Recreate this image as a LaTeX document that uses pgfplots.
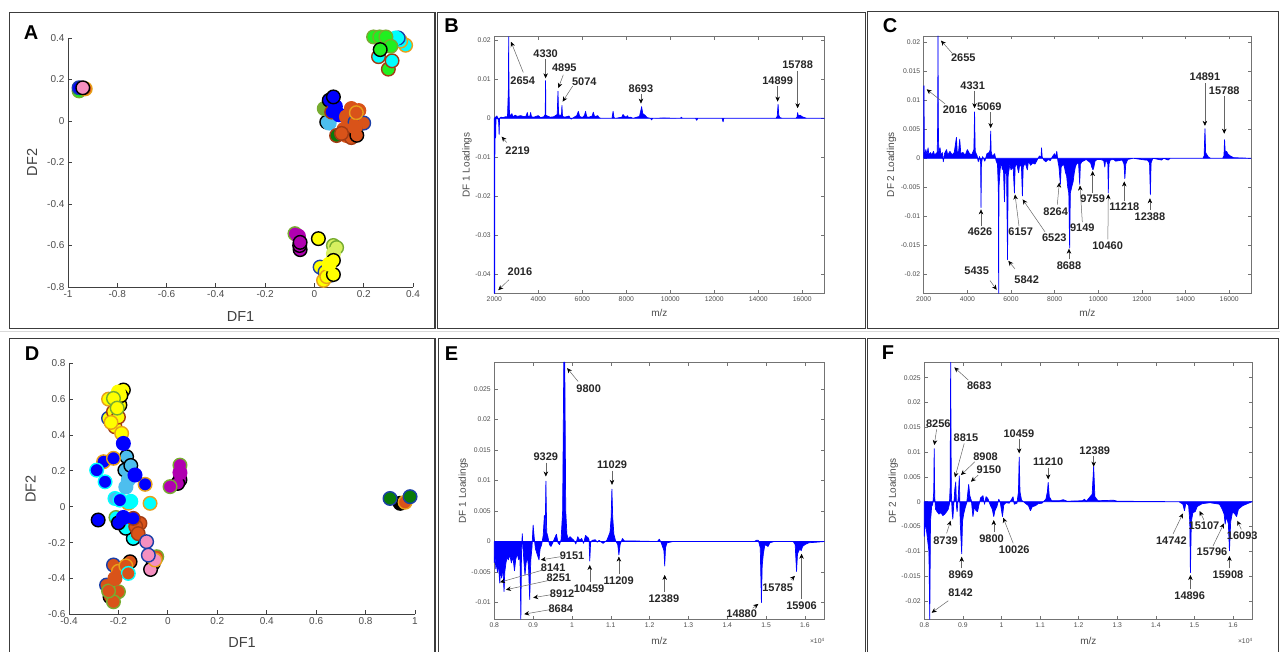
\documentclass[border=0pt]{standalone}
\usepackage{pgfplots}
\pgfplotsset{compat=1.18}
\usepackage{fontspec}
\setmainfont{Liberation Sans}
\usetikzlibrary{arrows.meta}
\definecolor{mBlue}{HTML}{0000FF}
\definecolor{mOrange}{HTML}{D95319}
\definecolor{mGold}{HTML}{E8A01A}
\definecolor{mEdgeBlue}{HTML}{1A3FA8}
\definecolor{mBrown}{HTML}{A23B14}
\definecolor{mLGreen}{HTML}{77AC30}
\definecolor{mLBlue}{HTML}{4DBEEE}
\definecolor{mMag}{HTML}{B000B0}
\definecolor{mPink}{HTML}{F590C0}
\definecolor{mDGreen}{HTML}{0A7A0A}
\definecolor{mCyan}{HTML}{00FFFF}
\definecolor{mLime}{HTML}{20F020}
\definecolor{mYellow}{HTML}{FFFF00}
\definecolor{mYG}{HTML}{D8F060}
\definecolor{frame}{HTML}{3C3C3C}
\newcommand{\pts}[3]{\addplot[only marks,mark=*,mark size=6.8pt,mark options={fill=#1,draw=#2,line width=1.4pt}] coordinates {#3};}
\newcommand{\ann}[4]{\node[lab] at (axis cs:#2) {#1};\draw[arr] (axis cs:#3) -- (axis cs:#4);}
\tikzset{
  lab/.style={font=\fontsize{11}{12}\selectfont\bfseries, text=black!85, inner sep=0pt},
  arr/.style={draw=black!60, line width=0.5pt, -{Stealth[length=5pt,width=4.5pt,black]}},
}
\pgfplotsset{
  scat/.style={scale only axis, axis lines*=left, tick align=inside, clip=false,
    axis line style={black!75, line width=0.9pt}, tick style={black!75, line width=0.8pt},
    major tick length=4pt,
    tick label style={font=\fontsize{10}{11}\selectfont, text=black!70},
    label style={font=\fontsize{14.5}{16}\selectfont, text=black!75},
    /pgf/number format/assume math mode=true},
  spec/.style={scale only axis, clip=false, scaled ticks=false,
    axis line style={black!55, line width=0.5pt}, tick style={black!55, line width=0.5pt},
    major tick length=3.5pt,
    tick label style={font=\fontsize{6.8}{7}\selectfont, text=black!70},
    label style={font=\fontsize{10}{11}\selectfont, text=black!70},
    /pgf/number format/assume math mode=true, /pgf/number format/1000 sep={},
    yticklabel style={/pgf/number format/fixed, /pgf/number format/precision=3}},
  sp/.style={draw=blue, fill=blue, line width=0.7pt, line join=round},
}
\begin{document}
\begin{tikzpicture}
\useasboundingbox (0,0) rectangle (1280pt,651pt);
\fill[white] (0,0) rectangle (1280pt,651pt);
\draw[black!15, line width=0.5pt] (0,320pt) -- (1280pt,320pt);
% frames
\draw[frame, line width=1.5pt] (9.3pt,322.7pt) rectangle (435pt,638.3pt);
\draw[frame, line width=1.5pt] (437.7pt,322.7pt) rectangle (865.7pt,638.3pt);
\draw[frame, line width=1.5pt] (867.7pt,322.7pt) rectangle (1278.5pt,639.3pt);
\draw[frame, line width=1.5pt] (9.3pt,-5pt) -- (9.3pt,312.7pt) -- (435pt,312.7pt) -- (435pt,-5pt);
\draw[frame, line width=1.5pt] (438.3pt,-5pt) -- (438.3pt,312.7pt) -- (865.7pt,312.7pt) -- (865.7pt,-5pt);
\draw[frame, line width=1.5pt] (867.7pt,-5pt) -- (867.7pt,312.7pt) -- (1278.5pt,312.7pt) -- (1278.5pt,-5pt);
% letters
\node[font=\fontsize{20}{22}\selectfont\bfseries] at (31pt,618.5pt) {A};
\node[font=\fontsize{20}{22}\selectfont\bfseries] at (451.5pt,625.3pt) {B};
\node[font=\fontsize{20}{22}\selectfont\bfseries] at (890pt,625pt) {C};
\node[font=\fontsize{20}{22}\selectfont\bfseries] at (32pt,297.5pt) {D};
\node[font=\fontsize{20}{22}\selectfont\bfseries] at (451.5pt,297pt) {E};
\node[font=\fontsize{20}{22}\selectfont\bfseries] at (888pt,298.5pt) {F};

% ---------------- A ----------------
\begin{axis}[scat, at={(68pt,364pt)}, anchor=south west, width=345pt, height=249pt,
  xmin=-1, xmax=0.4, ymin=-0.8, ymax=0.4,
  xtick={-1,-0.8,-0.6,-0.4,-0.2,0,0.2,0.4}, ytick={-0.8,-0.6,-0.4,-0.2,0,0.2,0.4},
  xlabel={DF1}, ylabel={DF2},
  xlabel style={at={(axis description cs:0.5,-0.12)}, anchor=center},
  ylabel style={at={(axis description cs:-0.104,0.5)}, anchor=center}]
\pts{mLime}{mLGreen}{(-0.955,0.145)}
\pts{mBlue}{mEdgeBlue}{(-0.955,0.16)}
\pts{mOrange}{mGold}{(-0.93,0.155)}
\pts{mPink}{black}{(-0.94,0.16)}
% upper right
\pts{mCyan}{mBrown}{(0.26,0.31)}
\pts{mLime}{mBrown}{(0.30,0.25)}
\pts{mCyan}{mBrown}{(0.315,0.29)}
\pts{mCyan}{mGold}{(0.37,0.365) (0.35,0.385)}
\pts{mCyan}{mEdgeBlue}{(0.34,0.40)}
\pts{mCyan}{mCyan}{(0.33,0.40) (0.30,0.39)}
\pts{mLime}{mLGreen}{(0.24,0.405) (0.265,0.405) (0.29,0.405) (0.31,0.36)}
\pts{mLime}{black}{(0.267,0.344)}
% middle
\pts{mLBlue}{black}{(0.05,-0.005)}
\pts{mLBlue}{mLBlue}{(0.06,-0.01)}
\pts{mLGreen}{mLGreen}{(0.04,0.06)}
\pts{mBlue}{black}{(0.06,0.10)}
\pts{mBlue}{mBrown}{(0.07,0.043)}
\pts{mBlue}{mBlue}{(0.10,0.03) (0.085,0.07)}
\pts{mOrange}{mOrange}{(0.13,-0.07) (0.15,0.06) (0.18,0.05) (0.13,0.02) (0.12,-0.04)}
\pts{mDGreen}{mBrown}{(0.09,-0.07)}
\pts{mOrange}{mEdgeBlue}{(0.165,-0.005) (0.2,-0.01)}
\pts{mOrange}{mBrown}{(0.15,-0.08) (0.11,-0.06) (0.165,-0.04)}
\pts{mOrange}{mGold}{(0.17,0.04)}
\pts{mOrange}{black}{(0.172,-0.069)}
\pts{mOrange}{mOrange}{(0.165,-0.03)}
\pts{mBlue}{black}{(0.077,0.116)}
% bottom
\pts{mMag}{mLGreen}{(-0.079,-0.543)}
\pts{mMag}{black}{(-0.058,-0.62) (-0.06,-0.60)}
\pts{mMag}{mMag}{(-0.065,-0.555)}
\pts{mMag}{black}{(-0.058,-0.585)}
\pts{mYG}{mLGreen}{(0.077,-0.6) (0.09,-0.61)}
\pts{mYG}{mYG}{(0.077,-0.64)}
\pts{mYellow}{black}{(0.016,-0.567)}
\pts{mYellow}{mEdgeBlue}{(0.023,-0.704) (0.043,-0.728) (0.064,-0.744)}
\pts{mYellow}{mGold}{(0.037,-0.768) (0.05,-0.75)}
\pts{mYellow}{black}{(0.077,-0.74) (0.077,-0.672)}
\pts{mYellow}{mYellow}{(0.06,-0.69)}
\end{axis}

% ---------------- B ----------------
\begin{axis}[spec, at={(494.3pt,357.7pt)}, anchor=south west, width=330pt, height=256.6pt,
  xmin=2000, xmax=17000, ymin=-0.045, ymax=0.021,
  xtick={2000,4000,...,16000}, ytick={-0.04,-0.03,-0.02,-0.01,0,0.01,0.02},
  xlabel={m/z}, ylabel={DF 1 Loadings},
  xlabel style={at={(axis description cs:0.5,-0.078)}, anchor=center},
  ylabel style={at={(axis description cs:-0.083,0.5)}, anchor=center}]
\addplot[sp] coordinates {(2000,-0.045)(2016,-0.045)(2030,0.0003)(2060,-0.005)(2080,0.0005)(2120,0.0006)(2160,0)(2200,-0.001)(2219,-0.0042)(2240,0)(2300,0.0003)(2400,0.0002)(2500,0.0004)(2600,0.0004)(2640,0.0075)(2654,0.021)(2668,0.0075)(2690,0.001)(2750,0.0008)(2800,0.0012)(2850,0.0004)(2950,0.0008)(3050,0.0005)(3200,0.0007)(3350,0.0004)(3450,0.0006)(3500,0.0015)(3540,0.0004)(3620,0.0006)(3650,0.0015)(3690,0.0004)(3800,0.0003)(3900,0.0005)(4000,0.0007)(4100,0.0002)(4250,0.0004)(4315,0.001)(4330,0.0097)(4345,0.0008)(4450,0.0005)(4550,0.0003)(4700,0.0004)(4860,0.001)(4895,0.007)(4920,0.0015)(4960,0.0005)(5055,0.001)(5074,0.0033)(5100,0.0005)(5200,0.0003)(5400,0.0006)(5450,0)(5500,-0.0002)(5600,0.0002)(5750,0.0007)(5820,0.0018)(5880,0.0005)(6000,0.0002)(6100,0.0008)(6150,0.0018)(6200,0.0004)(6300,0.0003)(6450,0.0006)(6500,0.0016)(6560,0.0004)(6700,0.0007)(6760,0.0002)(6850,0)(7350,0)(7400,0.0018)(7440,0.0002)(7500,0)(7800,0.0003)(7850,0.001)(7920,0.0005)(8000,0.0003)(8050,0.0007)(8100,0.0002)(8200,0.0003)(8300,0)(8600,0.0005)(8680,0.0025)(8693,0.003)(8750,0.0012)(8850,0.0008)(8950,0.0002)(9100,0)(9150,-0.0004)(9200,0)(9700,0.0001)(10450,0)(10500,0.0003)(10550,0)(11150,0)(11200,-0.0005)(11250,0)(12350,0)(12400,-0.0009)(12430,0)(14800,0)(14860,0.0005)(14899,0.0036)(14930,0.0008)(14980,0.0002)(15100,0)(15700,0)(15760,0.0003)(15788,0.0015)(15820,0.0006)(15900,0.0008)(16000,0.0004)(16100,0.0002)(16200,0)(17000,0)} \closedcycle;
\ann{2654}{3288,0.00966}{3318,0.0118}{2758,0.0197}
\ann{4330}{4333,0.0165}{4333,0.0152}{4333,0.0103}
\ann{4895}{5182,0.0131}{5136,0.0112}{4909,0.0078}
\ann{5074}{6091,0.0094}{5561,0.0083}{5106,0.0043}
\ann{8693}{8667,0.0077}{8667,0.0062}{8667,0.0038}
\ann{14899}{14878,0.0097}{14878,0.0083}{14878,0.0043}
\ann{15788}{15788,0.0137}{15788,0.0122}{15788,0.0026}
\ann{2219}{3060,-0.0083}{2560,-0.0062}{2333,-0.0047}
\ann{2016}{3167,-0.0395}{2667,-0.0415}{2182,-0.0442}
\end{axis}

% ---------------- C ----------------
\begin{axis}[spec, at={(923.7pt,357.7pt)}, anchor=south west, width=327.3pt, height=257.3pt,
  xmin=2000, xmax=17000, ymin=-0.0233, ymax=0.0211,
  xtick={2000,4000,...,16000}, ytick={-0.02,-0.015,-0.01,-0.005,0,0.005,0.01,0.015,0.02},
  xlabel={m/z}, ylabel={DF 2 Loadings},
  xlabel style={at={(axis description cs:0.5,-0.078)}, anchor=center},
  ylabel style={at={(axis description cs:-0.098,0.5)}, anchor=center}]
\addplot[sp] coordinates {(2000,0)(2005,0.0125)(2016,0.0125)(2025,0.001)(2060,0.0008)(2100,0.0015)(2150,0.0006)(2200,0.0018)(2240,0.0004)(2300,0.001)(2380,0.0006)(2450,0.0012)(2500,0.0005)(2560,0.0008)(2620,0.001)(2640,0.006)(2655,0.0211)(2670,0.006)(2690,0.001)(2750,0.0018)(2790,0.0004)(2850,0.001)(2900,-0.0006)(2950,0.0008)(3050,0.0015)(3100,0.0005)(3200,0.0012)(3300,0.0006)(3400,0.001)(3500,0.0036)(3540,0.0008)(3600,0.0012)(3650,0.0033)(3700,0.0008)(3800,0.001)(3900,0.0005)(4000,0.0015)(4100,0.0008)(4200,0.0006)(4300,0.0015)(4331,0.008)(4360,0.0012)(4450,0.0004)(4500,-0.0006)(4560,0.0003)(4610,-0.001)(4626,-0.0085)(4645,-0.001)(4700,0.0003)(4800,-0.0005)(4900,0.0008)(5000,0.001)(5050,0.0015)(5069,0.0047)(5090,0.0012)(5150,0.0003)(5250,0.0008)(5320,-0.0005)(5380,-0.001)(5420,-0.005)(5435,-0.0233)(5450,-0.005)(5500,-0.002)(5560,-0.0005)(5600,-0.002)(5650,-0.001)(5700,-0.0075)(5740,-0.0015)(5800,-0.003)(5842,-0.0175)(5870,-0.003)(5950,-0.001)(6000,-0.002)(6100,-0.0015)(6157,-0.006)(6190,-0.0015)(6250,-0.0008)(6350,-0.0025)(6400,-0.001)(6480,-0.0015)(6523,-0.0065)(6560,-0.0015)(6650,-0.0008)(6750,-0.002)(6800,-0.0005)(6900,-0.0012)(7000,-0.0008)(7100,-0.001)(7200,-0.0003)(7300,0.0004)(7380,0.0002)(7400,0.0018)(7430,0.0002)(7500,-0.0003)(7600,-0.0006)(7700,-0.0002)(7800,-0.0004)(7900,0.0003)(8000,0.0008)(8050,0.0002)(8100,0.0012)(8150,-0.0005)(8200,-0.0015)(8264,-0.0045)(8300,-0.0015)(8400,-0.001)(8450,-0.0015)(8500,-0.0025)(8550,-0.003)(8600,-0.005)(8650,-0.006)(8688,-0.0155)(8720,-0.006)(8780,-0.005)(8850,-0.004)(8900,-0.0025)(8950,-0.0015)(9000,-0.001)(9050,-0.0008)(9100,-0.001)(9149,-0.0045)(9180,-0.001)(9250,-0.0006)(9350,-0.0004)(9450,-0.0002)(9550,-0.0005)(9650,-0.0008)(9700,-0.0015)(9759,-0.002)(9800,-0.0015)(9850,-0.0005)(9950,-0.0002)(10100,-0.0002)(10250,-0.0004)(10300,-0.0015)(10340,-0.0002)(10440,-0.001)(10460,-0.006)(10490,-0.001)(10550,-0.0003)(10700,-0.0002)(10800,-0.0005)(11100,-0.0003)(11180,-0.001)(11218,-0.0035)(11260,-0.001)(11350,-0.0002)(11600,0)(12150,-0.0003)(12250,-0.0003)(12350,-0.0008)(12388,-0.0063)(12420,-0.0008)(12500,0)(12900,-0.0003)(13000,0)(13200,-0.0003)(13300,0)(14800,0)(14850,0.0004)(14891,0.0051)(14920,0.001)(14980,0.0006)(15050,0.0002)(15150,0)(15700,0)(15760,0.0004)(15788,0.0032)(15820,0.001)(15880,0.0012)(15950,0.0007)(16050,0.0004)(16200,0.0001)(17000,0)} \closedcycle;
\ann{2655}{3817,0.01736}{3313,0.0181}{2794,0.0203}
\ann{2016}{3435,0.00837}{2977,0.0094}{2137,0.0119}
\ann{4331}{4245,0.0125}{4331,0.01163}{4331,0.00865}
\ann{5069}{5008,0.0089}{5069,0.00796}{5069,0.00521}
\ann{4626}{4581,-0.0127}{4626,-0.01169}{4626,-0.00882}
\ann{6157}{6443,-0.0127}{6367,-0.0117}{6184,-0.00625}
\ann{6523}{7986,-0.0137}{7558,-0.0127}{6535,-0.0071}
\ann{5435}{4428,-0.0194}{5039,-0.0211}{5344,-0.0227}
\ann{5842}{6718,-0.021}{6184,-0.0191}{5879,-0.0177}
\ann{8264}{8047,-0.0092}{8123,-0.008}{8215,-0.0042}
\ann{8688}{8658,-0.0186}{8658,-0.0174}{8658,-0.0156}
\ann{9149}{9269,-0.012}{9269,-0.011}{9162,-0.0047}
\ann{9759}{9742,-0.0069}{9742,-0.006}{9742,-0.0022}
\ann{10460}{10429,-0.0151}{10440,-0.014}{10460,-0.0062}
\ann{11218}{11192,-0.0084}{11192,-0.0074}{11192,-0.004}
\ann{12388}{12368,-0.01}{12368,-0.0089}{12368,-0.0069}
\ann{14891}{14888,0.014}{14888,0.01295}{14888,0.0056}
\ann{15788}{15773,0.01163}{15773,0.01066}{15773,0.00424}
\end{axis}

% ---------------- D ----------------
\begin{axis}[scat, at={(69pt,36.7pt)}, anchor=south west, width=346pt, height=251pt,
  xmin=-0.4, xmax=1, ymin=-0.6, ymax=0.8,
  xtick={-0.4,-0.2,0,0.2,0.4,0.6,0.8,1}, ytick={-0.6,-0.4,-0.2,0,0.2,0.4,0.6,0.8},
  xlabel={DF1}, ylabel={DF2},
  xlabel style={at={(axis description cs:0.5,-0.114)}, anchor=center},
  ylabel style={at={(axis description cs:-0.111,0.5)}, anchor=center}]
\pts{mYellow}{mEdgeBlue}{(-0.24,0.493)}
\pts{mYellow}{mBrown}{(-0.22,0.53) (-0.214,0.446) (-0.20,0.50)}
\pts{mYellow}{mGold}{(-0.187,0.409) (-0.23,0.47) (-0.24,0.60) (-0.20,0.56)}
\pts{mYellow}{black}{(-0.18,0.651) (-0.194,0.567) (-0.19,0.62)}
\pts{mYellow}{mYellow}{(-0.20,0.64)}
\pts{mYellow}{mLGreen}{(-0.22,0.604) (-0.205,0.55)}
\pts{mLBlue}{black}{(-0.167,0.279) (-0.174,0.204) (-0.15,0.23)}
\pts{mLBlue}{mLBlue}{(-0.16,0.15) (-0.17,0.11)}
\pts{mBlue}{mGold}{(-0.26,0.251) (-0.092,0.125) (-0.22,0.27)}
\pts{mBlue}{mCyan}{(-0.288,0.204) (-0.254,0.139)}
\pts{mBlue}{mBlue}{(-0.18,0.353) (-0.133,0.177)}
\pts{mLBlue}{mCyan}{(-0.214,0.046)}
\pts{mCyan}{mGold}{(-0.072,0.019) (-0.16,0.02)}
\pts{mCyan}{mCyan}{(-0.15,0.03)}
\pts{mBlue}{mCyan}{(-0.194,0.037)}
\pts{mCyan}{black}{(-0.14,-0.177) (-0.17,-0.12)}
\pts{mCyan}{mLGreen}{(-0.21,-0.06)}
\pts{mBlue}{black}{(-0.282,-0.074) (-0.2,-0.09)}
\pts{mOrange}{mBrown}{(-0.113,-0.093) (-0.13,-0.11) (-0.12,-0.15)}
\pts{mBlue}{mBrown}{(-0.14,-0.065)}
\pts{mBlue}{mBlue}{(-0.18,-0.06)}
\pts{mPink}{black}{(-0.059,-0.316) (-0.07,-0.35)}
\pts{mOrange}{mLGreen}{(-0.045,-0.279)}
\pts{mPink}{mGold}{(-0.052,-0.297)}
\pts{mPink}{mEdgeBlue}{(-0.086,-0.195) (-0.079,-0.27)}
\pts{mOrange}{mEdgeBlue}{(-0.22,-0.325) (-0.248,-0.437)}
\pts{mOrange}{black}{(-0.153,-0.307) (-0.234,-0.502)}
\pts{mOrange}{mGold}{(-0.2,-0.36) (-0.17,-0.33)}
\pts{mOrange}{mLGreen}{(-0.2,-0.474) (-0.22,-0.53) (-0.24,-0.47)}
\pts{mOrange}{mCyan}{(-0.16,-0.372)}
\pts{mOrange}{mOrange}{(-0.214,-0.4)}
\pts{mMag}{black}{(0.049,0.15) (0.04,0.13)}
\pts{mMag}{mLGreen}{(0.009,0.112) (0.049,0.232)}
\pts{mMag}{mMag}{(0.049,0.19)}
\pts{black}{black}{(0.94,0.019)}
\pts{mOrange}{mGold}{(0.96,0.025)}
\pts{mDGreen}{mEdgeBlue}{(0.899,0.046) (0.98,0.056)}
\end{axis}

% ---------------- E ----------------
\begin{axis}[spec, at={(494.3pt,31.7pt)}, anchor=south west, width=330pt, height=257pt,
  xmin=8000, xmax=16500, ymin=-0.01275, ymax=0.0294,
  xtick={8000,9000,...,16000}, xticklabels={0.8,0.9,1,1.1,1.2,1.3,1.4,1.5,1.6},
  ytick={-0.01,-0.005,0,0.005,0.01,0.015,0.02,0.025},
  xlabel={m/z}, ylabel={DF 1 Loadings},
  xlabel style={at={(axis description cs:0.5,-0.083)}, anchor=center},
  ylabel style={at={(axis description cs:-0.094,0.5)}, anchor=center}]
\addplot[sp] coordinates {(8000,-0.0035)(8020,-0.0025)(8040,-0.0045)(8060,-0.003)(8080,-0.005)(8100,-0.0035)(8120,-0.005)(8141,-0.0068)(8160,-0.0045)(8190,-0.006)(8220,-0.004)(8251,-0.0082)(8270,-0.005)(8300,-0.0035)(8330,-0.0025)(8360,-0.003)(8400,-0.0022)(8440,-0.0035)(8480,-0.0025)(8520,-0.0048)(8550,-0.003)(8590,-0.002)(8630,-0.003)(8660,-0.002)(8684,-0.01275)(8700,-0.002)(8720,0.0013)(8740,-0.001)(8760,-0.003)(8790,-0.0055)(8820,-0.0035)(8850,-0.0025)(8880,-0.004)(8912,-0.0095)(8940,-0.003)(8970,-0.001)(9000,0.0027)(9030,0.0005)(9060,-0.0012)(9100,-0.002)(9151,-0.003)(9180,-0.0012)(9220,-0.0005)(9260,0.001)(9290,0.0043)(9310,0.001)(9329,0.0099)(9350,0.0015)(9380,0.0008)(9420,-0.0005)(9460,-0.0008)(9500,-0.0003)(9550,0.0005)(9600,0.0012)(9640,-0.0002)(9680,-0.0005)(9720,0.0003)(9760,0.005)(9790,0.0294)(9815,0.0294)(9840,0.005)(9870,0.0012)(9900,0.0004)(9950,0.0008)(10000,0.0005)(10050,0.0002)(10100,-0.0004)(10150,0.0008)(10200,0.0002)(10250,0.0005)(10300,-0.0003)(10350,0.001)(10420,0.0006)(10440,0.0003)(10459,-0.0032)(10480,-0.0002)(10520,0.0002)(10600,0.0003)(10650,-0.0001)(10700,0.0002)(10800,-0.0003)(10900,0.0002)(10980,0.0015)(11010,0.004)(11029,0.0086)(11050,0.004)(11080,0.0012)(11120,0.0002)(11180,-0.0005)(11209,-0.0022)(11240,-0.0005)(11300,0.0005)(11350,0.0001)(11600,0.0001)(12200,0)(12250,0.0004)(12300,-0.0002)(12370,-0.0015)(12389,-0.004)(12410,-0.001)(12450,-0.0002)(12600,0)(14700,0)(14750,0.0002)(14800,0.0002)(14850,-0.001)(14880,-0.01)(14900,-0.004)(14930,-0.002)(14970,-0.0005)(15050,-0.0008)(15100,-0.0002)(15200,0)(15700,0)(15750,-0.0005)(15785,-0.0049)(15810,-0.002)(15870,-0.0012)(15906,-0.0015)(15940,-0.0008)(16000,-0.0005)(16100,-0.0002)(16300,-0.0001)(16500,0)} \closedcycle;
\node[anchor=north east, inner sep=0pt, font=\fontsize{6.8}{7}\selectfont, text=black!70] at (axis description cs:1,-0.072) {×10\raisebox{0.55ex}{\fontsize{4.6}{5}\selectfont 4}};
\ann{9800}{10432,0.02505}{10158,0.02626}{9876,0.02844}
\ann{9329}{9328,0.01395}{9328,0.01296}{9328,0.01067}
\ann{11029}{11032,0.01258}{11032,0.01165}{11032,0.0093}
\ann{9151}{10004,-0.0023}{9730,-0.00246}{9199,-0.003}
\ann{8141}{9516,-0.00427}{9259,-0.00465}{8146,-0.00667}
\ann{8251}{9662,-0.006}{9388,-0.0064}{8300,-0.0079}
\ann{8912}{9747,-0.0085}{9430,-0.00875}{9002,-0.0092}
\ann{8684}{9713,-0.011}{9405,-0.0112}{8771,-0.0119}
\ann{10459}{10441,-0.00777}{10459,-0.00667}{10459,-0.00383}
\ann{11209}{11203,-0.0064}{11209,-0.00536}{11209,-0.00246}
\ann{12389}{12368,-0.0093}{12389,-0.0082}{12389,-0.00547}
\ann{14880}{14372,-0.01176}{14655,-0.01094}{14801,-0.01023}
\ann{15785}{15297,-0.0075}{15640,-0.0063}{15743,-0.00563}
\ann{15906}{15914,-0.01056}{15914,-0.00946}{15914,-0.002}
\end{axis}

% ---------------- F ----------------
\begin{axis}[spec, at={(924.3pt,31.7pt)}, anchor=south west, width=328pt, height=257pt,
  xmin=8000, xmax=16500, ymin=-0.0237, ymax=0.0281,
  xtick={8000,9000,...,16000}, xticklabels={0.8,0.9,1,1.1,1.2,1.3,1.4,1.5,1.6},
  ytick={-0.02,-0.015,-0.01,-0.005,0,0.005,0.01,0.015,0.02,0.025},
  xlabel={m/z}, ylabel={DF 2 Loadings},
  xlabel style={at={(axis description cs:0.5,-0.083)}, anchor=center},
  ylabel style={at={(axis description cs:-0.0945,0.5)}, anchor=center}]
\addplot[sp] coordinates {(8000,-0.007)(8030,-0.004)(8060,-0.006)(8090,-0.008)(8120,-0.01)(8142,-0.0237)(8160,-0.004)(8190,-0.001)(8220,-0.0005)(8245,0.002)(8256,0.0107)(8270,0.001)(8290,-0.0015)(8330,-0.002)(8380,-0.0025)(8430,-0.0022)(8480,-0.0028)(8530,-0.0025)(8580,-0.002)(8620,-0.0015)(8650,-0.0005)(8670,0.003)(8683,0.0281)(8700,0.002)(8720,-0.002)(8739,-0.0035)(8760,-0.001)(8790,0.0025)(8815,0.004)(8835,-0.001)(8850,-0.002)(8880,0.001)(8908,0.0052)(8930,-0.004)(8969,-0.0105)(8990,-0.004)(9020,-0.0025)(9060,-0.0012)(9100,-0.0002)(9130,0.002)(9150,0.0035)(9180,0.0012)(9220,0.0002)(9260,-0.003)(9300,-0.001)(9340,-0.0018)(9380,-0.002)(9420,-0.0005)(9460,0.0008)(9520,0.0012)(9560,-0.0005)(9600,0.001)(9650,0.0006)(9700,-0.0005)(9760,-0.0015)(9800,-0.003)(9830,-0.0018)(9880,-0.001)(9930,0.0005)(9970,-0.0002)(10026,-0.003)(10060,-0.0006)(10120,-0.0002)(10200,-0.0003)(10300,0.001)(10330,-0.0005)(10400,-0.0003)(10440,0.002)(10459,0.009)(10480,0.002)(10520,0.0003)(10600,-0.0002)(10700,-0.0008)(10750,-0.0018)(10800,-0.001)(10880,-0.0008)(10950,-0.0004)(11050,-0.0003)(11150,0.0005)(11190,0.002)(11210,0.0039)(11240,0.001)(11300,0.0002)(11500,0.0002)(11600,0.0004)(11700,0.0001)(12100,0.0002)(12150,0.0005)(12200,0.0001)(12350,0.0015)(12389,0.0072)(12420,0.001)(12500,0.0002)(12900,0.0003)(13000,0.0001)(14600,0)(14700,-0.0005)(14742,-0.0018)(14780,-0.0002)(14850,-0.0008)(14880,-0.004)(14896,-0.0143)(14920,-0.004)(14960,-0.0022)(15020,-0.002)(15070,-0.001)(15107,-0.0008)(15200,-0.0004)(15400,-0.0002)(15650,-0.0005)(15720,-0.0015)(15770,-0.0025)(15796,-0.0045)(15830,-0.003)(15880,-0.0045)(15908,-0.0099)(15940,-0.004)(15990,-0.002)(16050,-0.0025)(16093,-0.003)(16140,-0.0015)(16250,-0.0008)(16400,-0.0003)(16500,0)} \closedcycle;
\node[anchor=north east, inner sep=0pt, font=\fontsize{6.8}{7}\selectfont, text=black!70] at (axis description cs:1,-0.072) {×10\raisebox{0.55ex}{\fontsize{4.6}{5}\selectfont 4}};
\ann{8683}{9424,0.0233}{9139,0.02453}{8777,0.02708}
\ann{8256}{8362,0.0158}{8319,0.01458}{8259,0.01142}
\ann{8815}{9079,0.01297}{9035,0.01176}{8794,0.0049}
\ann{8908}{9588,0.00907}{9311,0.00806}{8949,0.00538}
\ann{9150}{9674,0.00652}{9398,0.00538}{9208,0.00403}
\ann{10459}{10450,0.01378}{10459,0.01257}{10459,0.00974}
\ann{11210}{11210,0.008}{11210,0.00685}{11210,0.0045}
\ann{12389}{12418,0.01028}{12389,0.0092}{12389,0.00706}
\ann{8739}{8552,-0.00793}{8578,-0.00638}{8682,-0.00383}
\ann{8969}{8949,-0.01465}{8969,-0.01344}{8969,-0.01109}
\ann{8142}{8940,-0.01835}{8621,-0.01996}{8190,-0.02238}
\ann{9800}{9743,-0.00753}{9800,-0.00605}{9800,-0.0037}
\ann{10026}{10330,-0.00974}{10304,-0.0084}{10045,-0.00323}
\ann{14742}{14402,-0.00793}{14445,-0.00652}{14704,-0.00235}
\ann{14896}{14877,-0.01895}{14896,-0.01767}{14896,-0.01478}
\ann{15107}{15248,-0.0049}{15248,-0.0037}{15135,-0.00188}
\ann{15796}{15455,-0.01008}{15481,-0.00894}{15765,-0.00437}
\ann{15908}{15869,-0.01478}{15908,-0.01344}{15908,-0.01095}
\ann{16093}{16240,-0.00692}{16214,-0.00558}{16110,-0.00383}
\end{axis}
\end{tikzpicture}
\end{document}
